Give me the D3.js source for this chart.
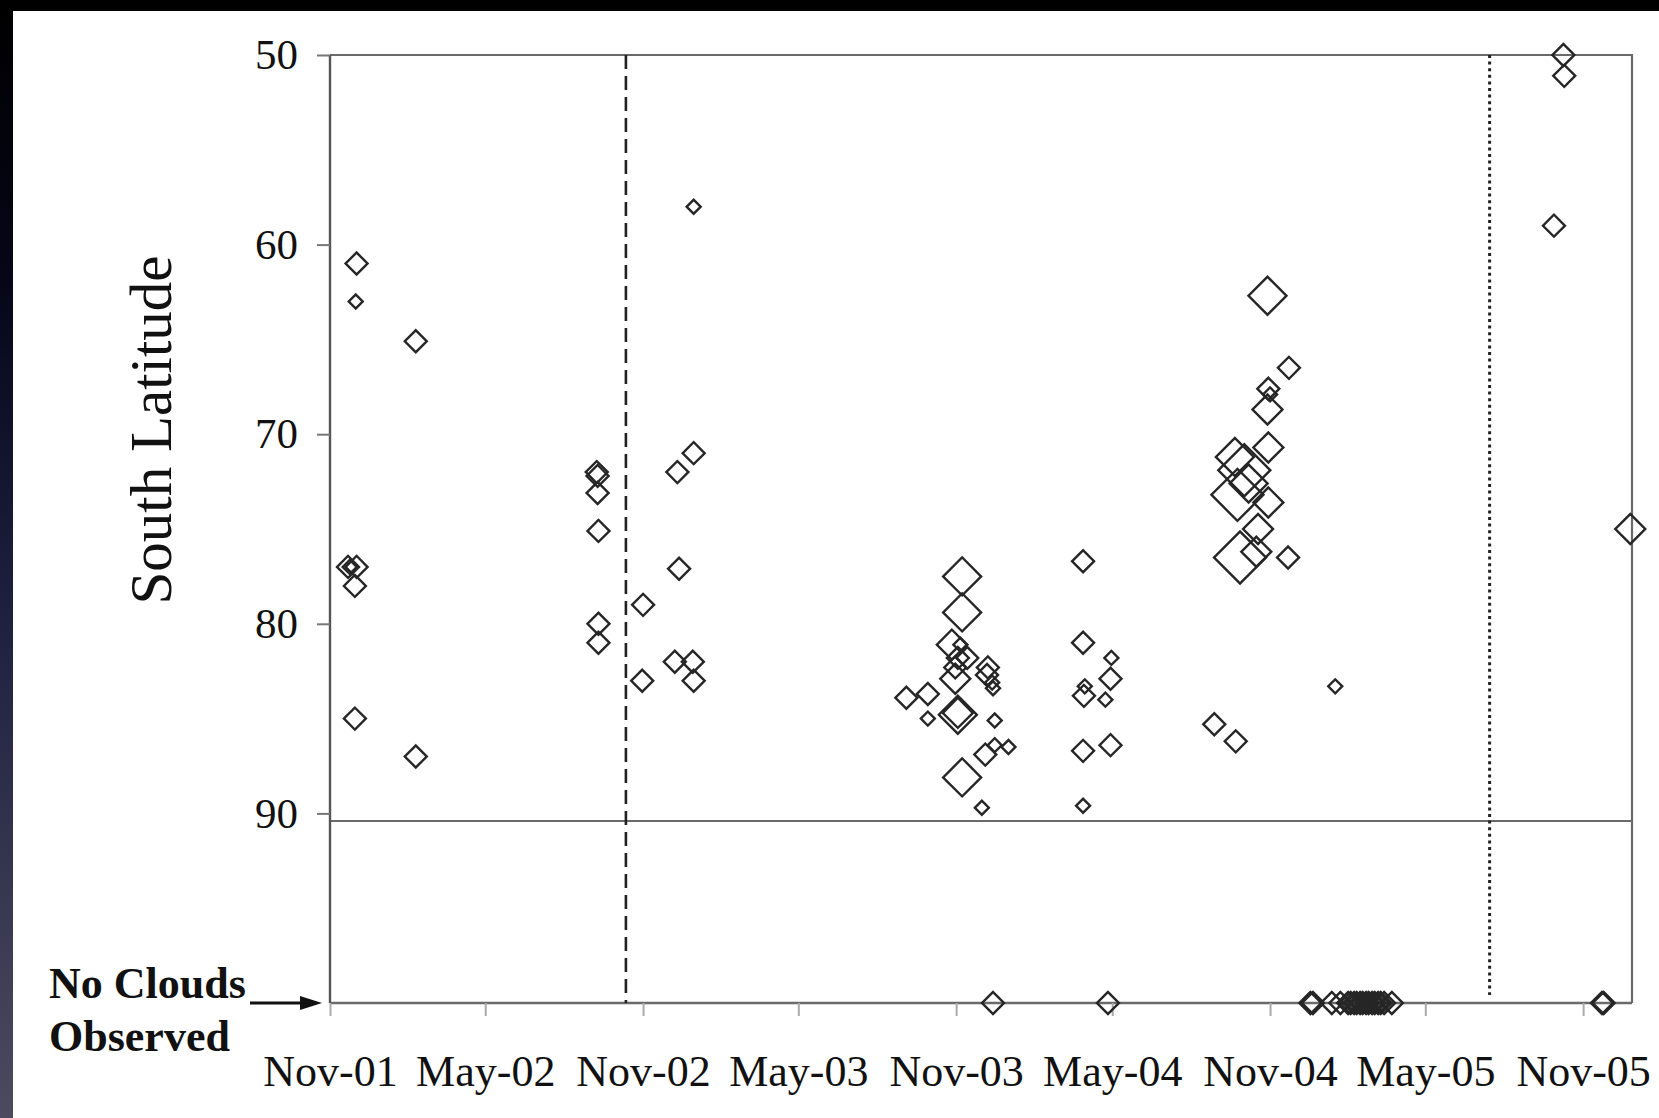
<!DOCTYPE html>
<html>
<head>
<meta charset="utf-8">
<script src="https://cdn.jsdelivr.net/npm/d3@7"></script>
<style>
  html, body { margin: 0; padding: 0; background: #000; }
  svg { display: block; }
</style>
</head>
<body>
<svg id="chart" width="1659" height="1118"></svg>
<script>
// Cloud observations per season: [date, south latitude, marker size class 1-5]
const season2001 = [
  ["2001-12-02", 61.0, 2], ["2001-12-01", 63.0, 1],
  ["2001-11-22", 77.0, 2], ["2001-12-02", 77.0, 2], ["2001-11-24", 77.0, 1],
  ["2001-11-30", 78.0, 2], ["2001-11-30", 85.0, 2],
  ["2002-02-09", 65.1, 2], ["2002-02-09", 87.0, 2]
];
const season2002 = [
  ["2002-09-08", 72.0, 2], ["2002-09-09", 72.2, 2], ["2002-09-09", 73.1, 2],
  ["2002-09-10", 75.1, 2], ["2002-09-10", 80.0, 2], ["2002-09-10", 81.0, 2],
  ["2002-11-01", 79.0, 2], ["2002-10-31", 83.0, 2],
  ["2002-12-11", 72.0, 2], ["2002-12-30", 71.0, 2], ["2002-12-13", 77.1, 2],
  ["2002-12-30", 58.0, 1], ["2002-12-08", 82.0, 2], ["2002-12-29", 82.0, 2],
  ["2002-12-30", 83.0, 2]
];
const season2003 = [
  ["2003-11-08", 77.5, 4], ["2003-11-08", 79.4, 4], ["2003-10-27", 81.1, 3],
  ["2003-11-06", 81.1, 1], ["2003-11-03", 81.8, 2], ["2003-11-14", 81.8, 2],
  ["2003-10-31", 82.3, 2], ["2003-12-08", 82.3, 2], ["2003-12-07", 82.7, 2],
  ["2003-12-13", 83.1, 1], ["2003-12-14", 83.4, 1], ["2003-10-31", 82.9, 3],
  ["2003-09-04", 83.9, 2], ["2003-09-29", 83.7, 2], ["2003-09-29", 85.0, 1],
  ["2003-11-03", 84.7, 3], ["2003-11-03", 84.8, 4], ["2003-12-16", 85.1, 1],
  ["2003-12-05", 86.9, 2], ["2003-12-16", 86.4, 1], ["2004-01-01", 86.5, 1],
  ["2003-11-08", 88.1, 4], ["2003-12-01", 89.7, 1],
  ["2004-03-28", 76.7, 2], ["2004-03-28", 81.0, 2], ["2004-04-30", 81.8, 1],
  ["2004-03-30", 83.3, 1], ["2004-03-29", 83.8, 2], ["2004-04-29", 82.9, 2],
  ["2004-04-23", 84.0, 1], ["2004-03-28", 86.7, 2], ["2004-04-29", 86.4, 2],
  ["2004-03-28", 89.6, 1]
];
const season2004 = [
  ["2004-10-29", 62.7, 4], ["2004-11-23", 66.5, 2], ["2004-10-30", 67.6, 2],
  ["2004-11-01", 67.9, 1], ["2004-10-29", 68.7, 3], ["2004-10-30", 70.7, 3],
  ["2004-09-21", 71.2, 4], ["2004-10-02", 71.9, 5], ["2004-10-07", 72.6, 4],
  ["2004-09-24", 73.2, 5], ["2004-10-30", 73.6, 3], ["2004-10-18", 75.0, 3],
  ["2004-10-16", 76.2, 3], ["2004-09-27", 76.5, 5], ["2004-11-22", 76.5, 2],
  ["2004-08-28", 85.3, 2], ["2004-09-22", 86.2, 2], ["2005-01-16", 83.3, 1]
];
const season2005 = [
  ["2005-10-09", 50.0, 2], ["2005-10-10", 51.1, 2], ["2005-09-28", 59.0, 2],
  ["2005-12-26", 75.0, 3]
];
// Dates of images in which no clouds were seen
const noCloudDates = [
  "2003-12-14", "2004-04-26",
  "2004-12-18", "2004-12-21", "2005-01-12", "2005-01-22", "2005-01-31",
  "2005-02-03", "2005-02-07", "2005-02-10", "2005-02-14", "2005-02-17",
  "2005-02-21", "2005-02-24", "2005-02-28", "2005-03-03", "2005-03-07",
  "2005-03-10", "2005-03-14", "2005-03-23",
  "2005-11-23", "2005-11-25"
];
const xTickDates = ["2001-11-01", "2002-05-01", "2002-11-01", "2003-05-01",
  "2003-11-01", "2004-05-01", "2004-11-01", "2005-05-01", "2005-11-01"];
const yTickValues = [50, 60, 70, 80, 90];
const noCloudLevel = 100;
const poleLineLat = 90.4;
const dashedDividerDate = "2002-10-12";
const dottedDividerDate = "2005-07-15";
const sizeClasses = [1, 2, 3, 4, 5];

const parse = d3.utcParse("%Y-%m-%d");
const svg = d3.select("#chart");
const W = 1659, H = 1118;

// Slide backdrop: dark border with a white sheet
const defs = svg.append("defs");
const grad = defs.append("linearGradient").attr("id", "edge")
  .attr("x1", 0).attr("y1", 0).attr("x2", 0).attr("y2", 1);
grad.append("stop").attr("offset", "0%").attr("stop-color", "#000000");
grad.append("stop").attr("offset", "25%").attr("stop-color", "#060618");
grad.append("stop").attr("offset", "55%").attr("stop-color", "#1e2040");
grad.append("stop").attr("offset", "100%").attr("stop-color", "#4c4a5e");
svg.append("rect").attr("width", W).attr("height", H).attr("fill", "url(#edge)");
svg.append("rect").attr("x", 0).attr("y", 0).attr("width", W).attr("height", 11).attr("fill", "#000");
svg.append("rect").attr("x", 13).attr("y", 11).attr("width", W - 13).attr("height", H - 11).attr("fill", "#ffffff");

// Scales
const x = d3.scaleUtc()
  .domain([parse("2001-11-01"), parse("2005-12-28")])
  .range([330, 1632]);
const y = d3.scaleLinear().domain([50, noCloudLevel]).range([55, 1003]);
const halfDiag = d3.scaleOrdinal().domain(sizeClasses).range([7, 11, 15, 19, 26]);

const FONT = "'Liberation Serif', 'Times New Roman', serif";
const frameColor = "#6a6a6a";

// Plot frame
const g = svg.append("g");
g.append("path")
  .attr("d", `M${x.range()[0]},${y(50)} H${x.range()[1]} V${y(noCloudLevel)}`)
  .attr("fill", "none").attr("stroke", frameColor).attr("stroke-width", 2.2);
g.append("line")
  .attr("x1", x.range()[0]).attr("x2", x.range()[1])
  .attr("y1", y(noCloudLevel)).attr("y2", y(noCloudLevel))
  .attr("stroke", frameColor).attr("stroke-width", 2.4);
g.append("line")
  .attr("x1", x.range()[0]).attr("x2", x.range()[1])
  .attr("y1", y(poleLineLat)).attr("y2", y(poleLineLat))
  .attr("stroke", frameColor).attr("stroke-width", 2);
g.append("line")
  .attr("x1", x.range()[0]).attr("x2", x.range()[0])
  .attr("y1", y(50)).attr("y2", y(noCloudLevel))
  .attr("stroke", "#555").attr("stroke-width", 2.4);

// Season dividers
g.append("line")
  .attr("x1", x(parse(dashedDividerDate))).attr("x2", x(parse(dashedDividerDate)))
  .attr("y1", y(50)).attr("y2", y(noCloudLevel))
  .attr("stroke", "#222").attr("stroke-width", 2.6).attr("stroke-dasharray", "14,7");
g.append("line")
  .attr("x1", x(parse(dottedDividerDate))).attr("x2", x(parse(dottedDividerDate)))
  .attr("y1", y(50)).attr("y2", y(noCloudLevel) - 8)
  .attr("stroke", "#222").attr("stroke-width", 3).attr("stroke-dasharray", "3,3.6");

// Axes
const yAxis = d3.axisLeft(y).tickValues(yTickValues).tickSize(13).tickPadding(19);
const ya = svg.append("g").attr("transform", `translate(${x.range()[0]},0)`).call(yAxis);
ya.select(".domain").remove();
ya.selectAll(".tick line").attr("stroke", "#777").attr("stroke-width", 2);
ya.selectAll(".tick text").attr("font-family", FONT).attr("font-size", 43).attr("fill", "#111");

const xAxis = d3.axisBottom(x)
  .tickValues(xTickDates.map(parse))
  .tickFormat(d3.utcFormat("%b-%y"))
  .tickSize(13).tickPadding(56);
const xa = svg.append("g").attr("transform", `translate(0,${y(noCloudLevel)})`).call(xAxis);
xa.select(".domain").remove();
xa.selectAll(".tick line").attr("stroke", "#aaa").attr("stroke-width", 2);
xa.selectAll(".tick text").attr("font-family", FONT).attr("font-size", 44).attr("fill", "#111")
  .attr("dy", "0.32em");

// Observation markers: open diamonds
const diamond = h => d3.symbol().type(d3.symbolSquare).size(2 * h * h)();
const allSeasons = [season2001, season2002, season2003, season2004, season2005];
const obs = allSeasons.flat().map(([d, lat, s]) => ({ date: parse(d), lat, s }));
const noClouds = noCloudDates.map(d => ({ date: parse(d), lat: noCloudLevel, s: 2 }));

svg.append("g").selectAll("path")
  .data(obs.concat(noClouds))
  .join("path")
  .attr("d", d => diamond(halfDiag(d.s)))
  .attr("transform", d => `translate(${x(d.date)},${y(d.lat)}) rotate(45)`)
  .attr("fill", "none")
  .attr("stroke", "#262626")
  .attr("stroke-width", 2.4);

// Axis titles
svg.append("text")
  .attr("transform", "translate(171,430) rotate(-90)")
  .attr("text-anchor", "middle")
  .attr("font-family", FONT).attr("font-size", 59).attr("fill", "#111")
  .text("South Latitude");

svg.append("text").attr("x", 49).attr("y", 998)
  .attr("font-family", FONT).attr("font-size", 44).attr("font-weight", "bold").attr("fill", "#111")
  .text("No Clouds");
svg.append("text").attr("x", 49).attr("y", 1051)
  .attr("font-family", FONT).attr("font-size", 44).attr("font-weight", "bold").attr("fill", "#111")
  .text("Observed");

// Arrow pointing at the "no clouds" row
svg.append("line").attr("x1", 250).attr("x2", 304)
  .attr("y1", y(noCloudLevel)).attr("y2", y(noCloudLevel))
  .attr("stroke", "#111").attr("stroke-width", 3);
svg.append("path")
  .attr("d", `M300,${y(noCloudLevel) - 7} L322,${y(noCloudLevel)} L300,${y(noCloudLevel) + 7} Z`)
  .attr("fill", "#111");
</script>
</body>
</html>
